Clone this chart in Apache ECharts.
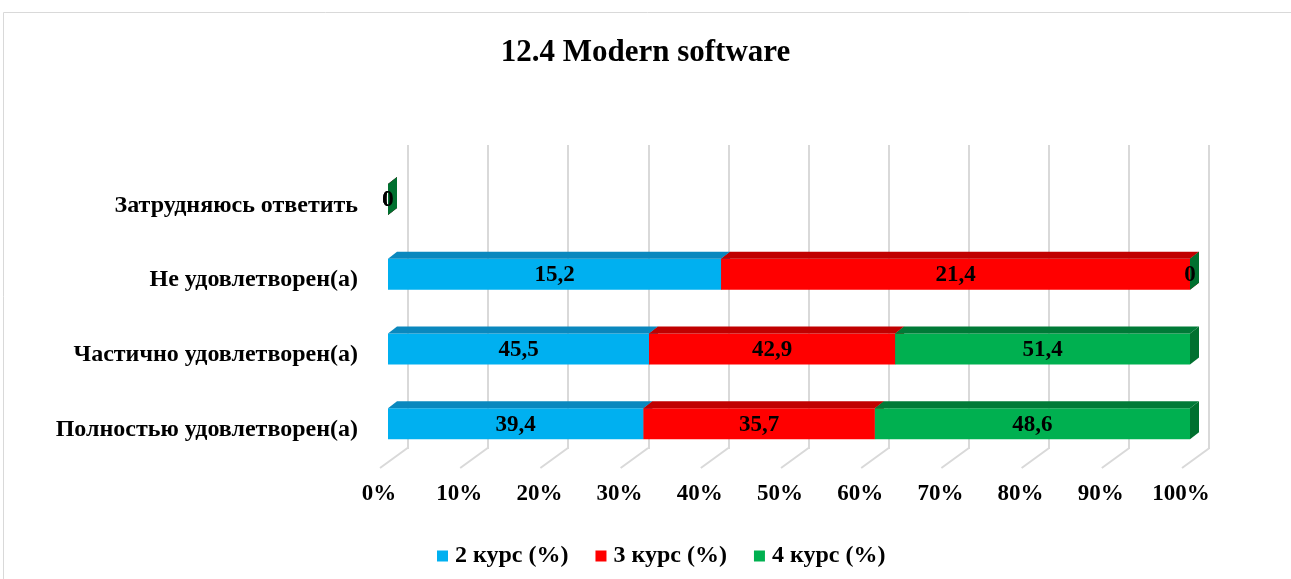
<!DOCTYPE html>
<html>
<head>
<meta charset="utf-8">
<script src="https://cdn.jsdelivr.net/npm/echarts@6/dist/echarts.min.js"></script>
<style>
  html, body { margin: 0; padding: 0; background: #fff; }
  #chart { width: 1291px; height: 579px; }
</style>
</head>
<body>
<div id="chart"></div>
<script>
// категории снизу вверх (ось категорий ECharts идёт снизу)
const categories = ['Полностью удовлетворен(а)', 'Частично удовлетворен(а)', 'Не удовлетворен(а)', 'Затрудняюсь ответить']
const seriesNames = ['2 курс (%)', '3 курс (%)', '4 курс (%)']
const course2 = [39.4, 45.5, 15.2, 0]
const course3 = [35.7, 42.9, 21.4, 0]
const course4 = [48.6, 51.4, 0, 0]
const xTicks = [0, 10, 20, 30, 40, 50, 60, 70, 80, 90, 100]

const colors = ['#00B0F0', '#FF0000', '#00B050']
const topColors = ['#0A88BE', '#C00000', '#007A37']
const sideColors = ['#0A7FB0', '#B00000', '#00702F']
const font = '"Liberation Serif", "Times New Roman", serif'

const allCourses = [course2, course3, course4]

// 100% накопление: считаем начало и конец каждого сегмента
const buildSegments = () => {
  return allCourses.map((values, s) => values.map((v, i) => {
    const total = allCourses.reduce((acc, arr) => acc + arr[i], 0)
    let start = 0
    for (let k = 0; k < s; k++) start += allCourses[k][i]
    const p0 = total ? start / total * 100 : 0
    const p1 = total ? (start + v) / total * 100 : 0
    return [p0, p1, i, v]
  }))
}
const segments = buildSegments()

const fmt = v => String(v).replace('.', ',')

const makeRender = s => (params, api) => {
  const a = api.coord([api.value(0), api.value(2)])
  const b = api.coord([api.value(1), api.value(2)])
  const x0 = a[0], x1 = b[0]
  const yc = a[1] - 6
  const h = 31, dx = 9, dy = 7
  const top = yc - h / 2, bottom = yc + h / 2
  return {
    type: 'group',
    children: [
      { type: 'rect', shape: { x: x0, y: top, width: x1 - x0, height: h }, style: { fill: colors[s] } },
      { type: 'polygon', shape: { points: [[x0, top], [x1, top], [x1 + dx, top - dy], [x0 + dx, top - dy]] }, style: { fill: topColors[s] } },
      { type: 'polygon', shape: { points: [[x1, top], [x1, bottom], [x1 + dx, bottom - dy], [x1 + dx, top - dy]] }, style: { fill: sideColors[s] } },
      { type: 'text', style: { text: fmt(api.value(3)), x: (x0 + x1) / 2, y: yc + 1, align: 'center', verticalAlign: 'middle', fill: '#000', font: 'bold 23px ' + font } }
    ]
  }
}

const renderFloor = (params, api) => {
  const p = api.coord([api.value(0), 0])
  const bottom = params.coordSys.y + params.coordSys.height
  return {
    type: 'line',
    shape: { x1: p[0] + 19.5, y1: bottom - 19, x2: p[0] - 8, y2: bottom + 1 },
    style: { stroke: '#d9d9d9', lineWidth: 2 }
  }
}

const chart = echarts.init(document.getElementById('chart'))

const option = {
  animation: false,
  graphic: [{
    type: 'rect',
    shape: { x: 3.5, y: 12.5, width: 1320, height: 620 },
    style: { fill: 'none', stroke: '#d9d9d9', lineWidth: 1 },
    silent: true
  }],
  title: {
    text: '12.4 Modern software',
    left: 'center',
    top: 32,
    textStyle: { fontFamily: font, fontWeight: 'bold', fontSize: 31, color: '#000' }
  },
  legend: {
    data: seriesNames,
    top: 539,
    left: 432,
    icon: 'rect',
    itemWidth: 11,
    itemHeight: 11,
    itemGap: 27,
    textStyle: { fontFamily: font, fontWeight: 'bold', fontSize: 24, color: '#000', padding: [0, 0, 0, 2] }
  },
  grid: [
    { left: 388, right: 101, top: 168, bottom: 112 },
    { left: 408, right: 82, top: 145, bottom: 130 }
  ],
  xAxis: [
    {
      gridIndex: 0,
      type: 'value',
      min: 0, max: 100, interval: 10,
      axisLine: { show: false },
      axisTick: { show: false },
      splitLine: { show: false },
      axisLabel: {
        formatter: '{value}%',
        margin: 16,
        padding: [0, 18, 0, 0],
        fontFamily: font, fontWeight: 'bold', fontSize: 23, color: '#000'
      }
    },
    {
      gridIndex: 1,
      type: 'value',
      min: 0, max: 100, interval: 10,
      axisLine: { show: false },
      axisTick: { show: false },
      axisLabel: { show: false },
      splitLine: { show: true, lineStyle: { color: '#d9d9d9', width: 2 } }
    }
  ],
  yAxis: [
    {
      gridIndex: 0,
      type: 'category',
      data: categories,
      axisLine: { show: false },
      axisTick: { show: false },
      axisLabel: { margin: 30, fontFamily: font, fontWeight: 'bold', fontSize: 24, color: '#000' }
    },
    { gridIndex: 1, type: 'value', show: false }
  ],
  series: [
    {
      type: 'custom',
      name: 'floor',
      xAxisIndex: 0, yAxisIndex: 0,
      renderItem: renderFloor,
      data: xTicks.map(t => [t]),
      encode: { x: 0 },
      silent: true,
      z: 1
    },
    ...seriesNames.map((name, s) => ({
      type: 'custom',
      name,
      xAxisIndex: 0, yAxisIndex: 0,
      itemStyle: { color: colors[s] },
      renderItem: makeRender(s),
      data: segments[s],
      encode: { x: [0, 1], y: 2 },
      z: 2 + s
    }))
  ]
}

chart.setOption(option)
</script>
</body>
</html>
